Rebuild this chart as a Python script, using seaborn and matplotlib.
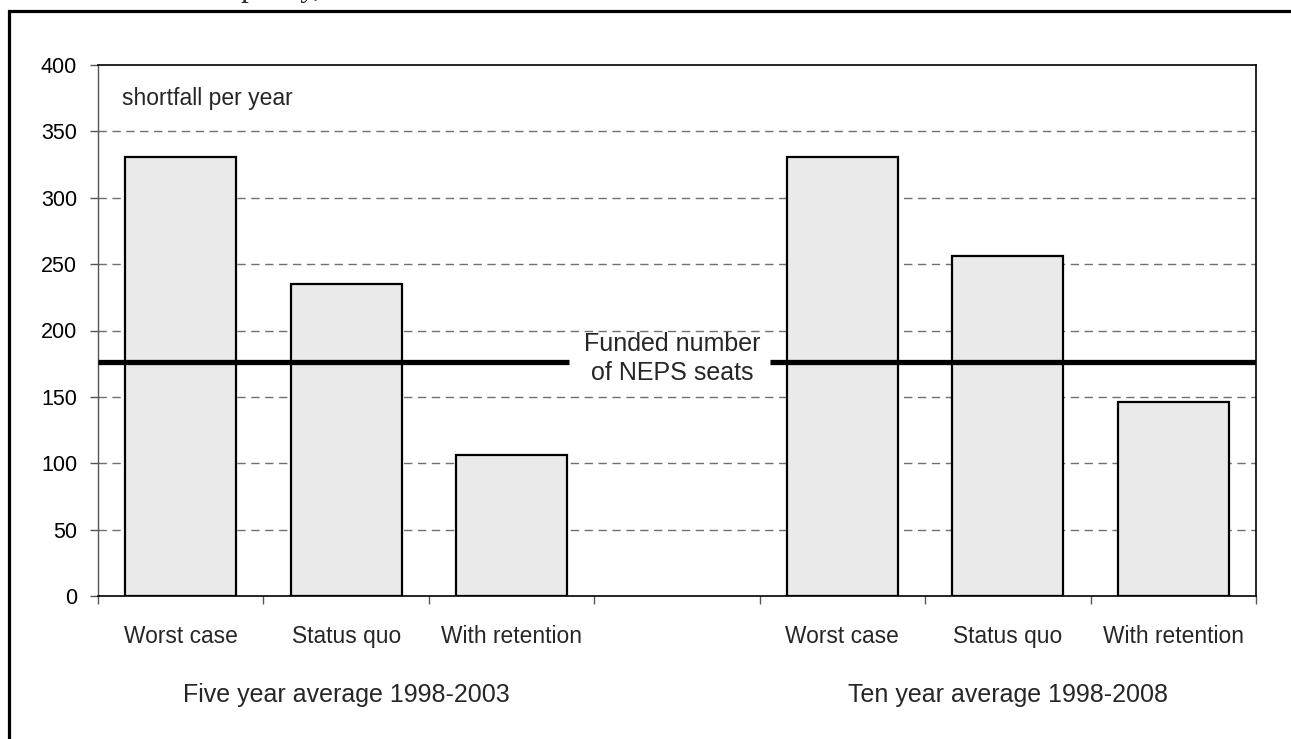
import matplotlib
matplotlib.use("Agg")
import matplotlib.pyplot as plt
from matplotlib.patches import Rectangle
from matplotlib.transforms import blended_transform_factory
import seaborn as sns
import pandas as pd

# Shortfall per year by scenario, for the two averaging periods
scenarios = ["Worst case", "Status quo", "With retention"]
five_year = [331, 235, 106]
ten_year = [331, 256, 146]
group_labels = ["Five year average 1998-2003", "Ten year average 1998-2008"]
funded_seats = 176
y_ticks = [0, 50, 100, 150, 200, 250, 300, 350, 400]

sns.set_theme(style="white")
plt.rcParams["font.family"] = ["Liberation Sans", "DejaVu Sans"]

# Seven slots along x: three bars, one empty gap, three bars
slots = ["five_0", "five_1", "five_2", "gap", "ten_0", "ten_1", "ten_2"]
df = pd.DataFrame({
    "slot": slots[:3] + slots[4:],
    "shortfall": five_year + ten_year,
})

fig = plt.figure(figsize=(12.91, 7.39), dpi=100)
ax = fig.add_axes([98 / 1291, 1 - 596 / 739, (1256 - 98) / 1291, (596 - 65) / 739])

sns.barplot(data=df, x="slot", y="shortfall", order=slots, width=0.67,
            color="#EAEAEA", edgecolor="black", linewidth=1.6,
            saturation=1, ax=ax, zorder=3)

ax.set_xlim(-0.5, 6.5)
ax.set_ylim(0, 400)
ax.set_yticks(y_ticks)
ax.set_yticklabels([str(v) for v in y_ticks], fontsize=15.5, color="black")
ax.set_xlabel("")
ax.set_ylabel("")

# Major x ticks on slot boundaries, labels on slot centres
ax.set_xticks([i - 0.5 for i in range(8)])
ax.set_xticklabels([""] * 8)
centres = [0, 1, 2, 4, 5, 6]
ax.set_xticks(centres, minor=True)
ax.set_xticklabels(scenarios + scenarios, minor=True, fontsize=16.4)
ax.tick_params(axis="x", which="major", direction="out", length=6,
               width=1, color="#555555", bottom=True)
ax.tick_params(axis="x", which="minor", length=0, pad=21, bottom=True)
ax.tick_params(axis="y", direction="out", length=6, width=1,
               color="#555555", left=True, pad=9)

# Dashed horizontal gridlines
for v in y_ticks[1:-1]:
    ax.axhline(v, color="#707070", linewidth=1, linestyle=(0, (6, 4)), zorder=1)

for side in ["top", "right", "bottom"]:
    ax.spines[side].set_color("black")
    ax.spines[side].set_linewidth(1.2)
ax.spines["left"].set_color("#555555")
ax.spines["left"].set_linewidth(1)

# Funded seats line, broken around its label
ax.plot([-0.5, 2.35], [funded_seats, funded_seats], color="black",
        linewidth=3.8, solid_capstyle="butt", zorder=4)
ax.plot([3.56, 6.5], [funded_seats, funded_seats], color="black",
        linewidth=3.8, solid_capstyle="butt", zorder=4)
ax.text(2.97, 179, "Funded number\nof NEPS seats", ha="center", va="center",
        fontsize=18, linespacing=1.25, zorder=5)

ax.text(-0.355, 375, "shortfall per year", ha="left", va="center", fontsize=16.5)

trans = blended_transform_factory(ax.transData, ax.transAxes)
ax.text(1, -0.186, group_labels[0], transform=trans, ha="center",
        va="center", fontsize=18)
ax.text(5, -0.186, group_labels[1], transform=trans, ha="center",
        va="center", fontsize=18)

# Page frame around the chart, open to the right and bottom
fig.patches.append(Rectangle((9 / 1291, -0.05), 1.2, 1.05 - 11.3 / 739,
                             transform=fig.transFigure, fill=False,
                             edgecolor="black", linewidth=2.3))
# Tail of the preceding page text, running off the top edge
fig.text(215 / 1291, 1 + 4 / 739, "capacity,", family="Liberation Serif",
         fontsize=22, ha="left", va="baseline")

fig.savefig("out.png", dpi=100)
